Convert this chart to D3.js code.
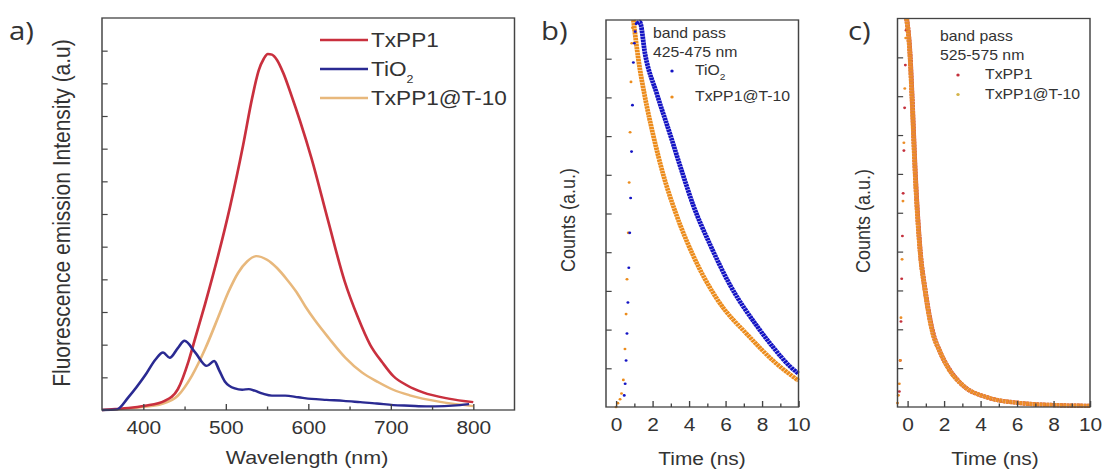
<!DOCTYPE html>
<html>
<head>
<meta charset="utf-8">
<script src="https://cdn.jsdelivr.net/npm/d3@7/dist/d3.min.js"></script>
<style>
body { margin: 0; background: #fff; }
svg text { font-family: 'Liberation Sans', Arial, sans-serif; fill: #333; }
</style>
</head>
<body>
<svg id="chart"></svg>
<script>
// a) emission spectra (intensity in y-tick units)
var txpp1Nm  = [350, 366, 382, 402, 426, 442, 455, 463, 475, 491, 505, 521, 532, 540, 546, 551, 556, 562, 570, 580, 590, 604, 624, 644, 660, 675, 690, 703, 720, 739, 770, 800];
var txpp1Int = [0, 0.03, 0.06, 0.13, 0.28, 0.64, 1.5, 2.2, 3.25, 4.75, 6.2, 8.1, 9.55, 10.4, 10.75, 10.9, 10.88, 10.72, 10.3, 9.6, 8.85, 7.7, 5.8, 3.95, 2.85, 2.0, 1.45, 1.04, 0.75, 0.54, 0.35, 0.24];

var tio2Nm  = [350, 368, 382, 402, 415, 424, 432, 442, 450, 463, 477, 486, 492, 499, 511, 520, 528, 535, 545, 556, 572, 588, 604, 622, 643, 663, 683, 703, 723, 743, 765, 784, 795];
var tio2Int = [0, 0.02, 0.39, 1.05, 1.55, 1.76, 1.6, 1.9, 2.12, 1.76, 1.35, 1.5, 1.22, 0.87, 0.66, 0.62, 0.64, 0.59, 0.5, 0.44, 0.44, 0.39, 0.34, 0.31, 0.28, 0.24, 0.2, 0.15, 0.13, 0.11, 0.12, 0.15, 0.18];

var t10Nm  = [350, 382, 402, 422, 442, 459, 475, 491, 503, 515, 526, 537, 550, 562, 574, 586, 597, 608, 625, 645, 665, 685, 703, 723, 760, 800];
var t10Int = [0, 0.05, 0.1, 0.18, 0.44, 1.05, 1.87, 2.85, 3.6, 4.2, 4.55, 4.71, 4.6, 4.35, 4.0, 3.6, 3.15, 2.75, 2.2, 1.6, 1.15, 0.85, 0.62, 0.45, 0.25, 0.12];

var spectraNames = ['TxPP1', 'TiO2', 'TxPP1@T-10'];

// b) decay, band pass 425-475 nm
var bTio2RiseT   = [0.45, 0.5, 0.55, 0.6, 0.65, 0.7, 0.75, 0.8, 0.85, 0.9, 0.95, 1.0, 1.05, 1.1];
var bTio2RiseV   = [0.3, 0.6, 1.2, 1.9, 2.7, 3.6, 4.5, 5.4, 6.6, 7.8, 8.9, 9.4, 9.7, 9.9];
var bTio2DecayT  = [1.15, 1.3, 1.6, 2.23, 2.96, 3.6, 4.24, 5.15, 6.25, 7.71, 8.6, 9.53, 10];
var bTio2DecayV  = [9.9, 9.95, 9.1, 8.1, 7.05, 6.1, 5.2, 4.2, 3.15, 2.1, 1.55, 1.05, 0.86];
var bT10RiseT    = [0.0, 0.1, 0.22, 0.3, 0.4, 0.49, 0.55, 0.6, 0.67, 0.72, 0.77, 0.82, 0.86, 0.9];
var bT10RiseV    = [0.0, 0.1, 0.2, 0.35, 0.7, 1.5, 2.4, 3.3, 4.5, 5.8, 7.1, 8.4, 9.4, 9.8];
var bT10DecayT   = [0.95, 1.22, 1.59, 2.05, 2.59, 3.32, 4.24, 5.52, 7.34, 8.6, 10];
var bT10DecayV   = [10, 9.0, 8.0, 7.0, 6.0, 4.95, 3.9, 2.8, 1.8, 1.2, 0.68];

// c) decay, band pass 525-575 nm
var cTxRiseT   = [-0.45, -0.4, -0.36, -0.32, -0.28, -0.24, -0.2, -0.16, -0.12, -0.08];
var cTxRiseV   = [0.4, 1.2, 2.2, 3.3, 4.4, 5.5, 6.6, 7.7, 8.8, 9.7];
var cTxDecayT  = [-0.05, 0.15, 0.25, 0.43, 0.7, 0.97, 1.35, 1.8, 2.25, 3.05, 4.35, 6.2, 8.0, 10];
var cTxDecayV  = [10, 9.0, 8.0, 6.0, 4.0, 3.0, 2.0, 1.4, 1.0, 0.55, 0.25, 0.1, 0.05, 0.03];
var cT10RiseT  = [-0.55, -0.5, -0.45, -0.4, -0.36, -0.3, -0.25, -0.2, -0.15, -0.1];
var cT10RiseV  = [0.1, 0.3, 0.6, 1.2, 2.3, 3.8, 5.3, 6.8, 8.2, 9.5];
var cT10DecayT = [-0.05, 0.14, 0.24, 0.42, 0.69, 0.96, 1.33, 1.8, 2.23, 3.05, 4.35, 6.2, 8.0, 10];
var cT10DecayV = [10, 9.0, 8.0, 6.0, 4.0, 3.0, 2.0, 1.4, 1.0, 0.55, 0.25, 0.1, 0.05, 0.03];

var nmTicks = [400, 500, 600, 700, 800];
var nmMinor = [450, 550, 650, 750];
var tTicks = [0, 2, 4, 6, 8, 10];
var tMinor = [1, 3, 5, 7, 9];


// the whole figure is stretched a little sideways, text included
var SX = 1.13;
var u = function (px) { return px / SX; };
var zip = function (xs, ys) { return xs.map(function (v, i) { return [v, ys[i]]; }); };

var svg = d3.select('svg#chart')
    .attr('width', 1103)
    .attr('height', 475) ;

var root = svg.append('g')
    .attr('transform', 'scale(' + SX + ',1)') ;

var drawFrame = function (x, y, majors, minors, yTicks) {
    var g = root.append('g');
    var x0 = x.range()[0], x1 = x.range()[1];
    var y0 = y.range()[0], y1 = y.range()[1];

    var bottom = g.append('g')
        .attr('transform', 'translate(0,' + y0 + ')')
        .call(d3.axisBottom(x).tickValues(majors).tickSize(-6).tickPadding(11).tickFormat(d3.format('d'))) ;
    g.append('g')
        .attr('transform', 'translate(0,' + y0 + ')')
        .call(d3.axisBottom(x).tickValues(minors).tickSize(-3.5).tickFormat('')) ;
    g.append('g')
        .attr('transform', 'translate(' + x0 + ',0)')
        .call(d3.axisLeft(y).tickValues(yTicks).tickSize(-5).tickFormat('')) ;

    g.selectAll('.domain').remove();
    g.selectAll('.tick line').attr('stroke', '#444').attr('stroke-width', 1.2);
    bottom.selectAll('text').style('font-size', '18.5px').attr('fill', '#333');

    g.append('rect')
        .attr('x', x0)
        .attr('y', y1)
        .attr('width', x1 - x0)
        .attr('height', y0 - y1)
        .attr('fill', 'none')
        .attr('stroke', '#444')
        .attr('stroke-width', 1.3) ;
};

var label = function (txt, px, py, size, opts) {
    opts = opts || {};
    var t = root.append('text')
        .attr('x', u(px))
        .attr('y', py)
        .attr('text-anchor', opts.anchor || 'start')
        .attr('dy', opts.dy || null)
        .style('font-size', size + 'px')
        .text(txt) ;
    if (opts.family) t.style('font-family', opts.family);
    return t;
};

var vlabel = function (txt, px, py, size) {
    root.append('text')
        .attr('transform', 'translate(' + u(px) + ',' + py + ') rotate(-90)')
        .attr('text-anchor', 'middle')
        .attr('dy', '0.35em')
        .style('font-size', size + 'px')
        .text(txt) ;
};

var tio2Text = function (t, subSize, subDy) {
    t.text(null);
    t.append('tspan').text('TiO');
    t.append('tspan').attr('dy', subDy).style('font-size', subSize + 'px').text('2');
};


// ---- a) ----
var xA = d3.scaleLinear().domain([350, 850]).range([u(102), u(514.5)]);
var yA = d3.scaleLinear().domain([0, 12]).range([410, 18]);

var spectra = [
    { pts: zip(t10Nm, t10Int), color: '#e8b87c' },
    { pts: zip(txpp1Nm, txpp1Int), color: '#c9303e' },
    { pts: zip(tio2Nm, tio2Int), color: '#2a2a92' },
];
var lineA = d3.line()
    .x(function (d) { return xA(d[0]); })
    .y(function (d) { return yA(d[1]); })
    .curve(d3.curveMonotoneX) ;

root.append('g').selectAll('path')
    .data(spectra)
    .enter().append('path')
    .attr('d', function (d) { return lineA(d.pts); })
    .attr('fill', 'none')
    .attr('stroke', function (d) { return d.color; })
    .attr('stroke-width', 2.4) ;

drawFrame(xA, yA, nmTicks, nmMinor, d3.range(1, 12));

var legendA = [
    { name: spectraNames[0], color: '#c9303e', y: 40 },
    { name: spectraNames[1], color: '#2a2a92', y: 69 },
    { name: spectraNames[2], color: '#e8b87c', y: 98 },
];
legendA.forEach(function (d) {
    root.append('line')
        .attr('x1', u(320)).attr('x2', u(368))
        .attr('y1', d.y).attr('y2', d.y)
        .attr('stroke', d.color)
        .attr('stroke-width', 2.4) ;
    var t = label(d.name, 371, d.y, 20, { dy: '0.36em' });
    if (d.name === 'TiO2') tio2Text(t, 11, 7);
});

label('a)', 9, 40, 26, { family: "'Open Sans', sans-serif" });
vlabel('Fluorescence emission Intensity (a.u)', 62, 213, 21);
label('Wavelength (nm)', 307, 464, 19, { anchor: 'middle' });


// ---- b) and c) decays ----
var decayPanel = function (x, y, series) {
    var lineT = d3.line()
        .x(function (d) { return x(d[0]); })
        .y(function (d) { return y(d[1]); })
        .curve(d3.curveMonotoneX) ;
    var g = root.append('g');
    series.forEach(function (s) {
        g.append('path')
            .attr('d', lineT(s.decay))
            .attr('fill', 'none')
            .attr('stroke', s.color)
            .attr('stroke-width', 4.2)
            .attr('stroke-dasharray', '2.5,0.5') ;
        g.selectAll(null)
            .data(s.rise)
            .enter().append('circle')
            .attr('cx', function (d) { return x(d[0]); })
            .attr('cy', function (d) { return y(d[1]); })
            .attr('r', 1.3)
            .attr('fill', s.color) ;
    });
};

var xB = d3.scaleLinear().domain([-0.55, 10]).range([u(606), u(798.5)]);
var yB = d3.scaleLinear().domain([0, 10]).range([407, 20]);

decayPanel(xB, yB, [
    { rise: zip(bT10RiseT, bT10RiseV), decay: zip(bT10DecayT, bT10DecayV), color: '#ec8c1c' },
    { rise: zip(bTio2RiseT, bTio2RiseV), decay: zip(bTio2DecayT, bTio2DecayV), color: '#1414c4' },
]);
drawFrame(xB, yB, tTicks, tMinor, d3.range(1, 10));

label('b)', 541, 40, 26, { family: "'Open Sans', sans-serif" });
vlabel('Counts (a.u.)', 568, 220, 18);
label('Time (ns)', 702, 465, 18.5, { anchor: 'middle' });
label('band pass', 653, 33, 14, { dy: '0.36em' });
label('425-475 nm', 653, 52, 14, { dy: '0.36em' });
[{ name: 'TiO2', color: '#1414c4', y: 71 }, { name: 'TxPP1@T-10', color: '#ec8c1c', y: 97 }].forEach(function (d) {
    root.append('circle').attr('cx', u(672)).attr('cy', d.y).attr('r', 1.5).attr('fill', d.color);
    var t = label(d.name, 695, d.y - 1, 14, { dy: '0.36em' });
    if (d.name === 'TiO2') tio2Text(t, 9, 5);
});

var xC = d3.scaleLinear().domain([-0.55, 10]).range([u(897.5), u(1090)]);
var yC = d3.scaleLinear().domain([0, 10]).range([407, 18.5]);

decayPanel(xC, yC, [
    { rise: zip(cTxRiseT, cTxRiseV), decay: zip(cTxDecayT, cTxDecayV), color: '#c4303c' },
    { rise: zip(cT10RiseT, cT10RiseV), decay: zip(cT10DecayT, cT10DecayV), color: '#ec8e28' },
]);
drawFrame(xC, yC, tTicks, tMinor, d3.range(1, 10));

label('c)', 848, 40, 26, { family: "'Open Sans', sans-serif" });
vlabel('Counts (a.u.)', 863, 221, 18);
label('Time (ns)', 995, 465, 18.5, { anchor: 'middle' });
label('band pass', 940, 36, 14, { dy: '0.36em' });
label('525-575 nm', 940, 55, 14, { dy: '0.36em' });
[{ name: 'TxPP1', color: '#c4303c', y: 75 }, { name: 'TxPP1@T-10', color: '#d4b448', y: 94.5 }].forEach(function (d) {
    root.append('circle').attr('cx', u(958)).attr('cy', d.y).attr('r', 1.5).attr('fill', d.color);
    label(d.name, 985, d.y - 1, 14, { dy: '0.36em' });
});
</script>
</body>
</html>
